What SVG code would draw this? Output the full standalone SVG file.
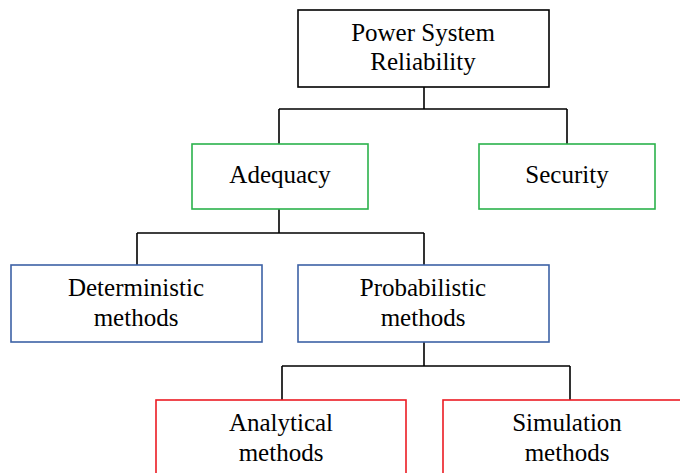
<svg xmlns="http://www.w3.org/2000/svg" width="680" height="473" viewBox="0 0 680 473">
<style>
.box{fill:#fff;stroke-width:1.6}
.k{stroke:#000}
.g{stroke:#2bb24c}
.b{stroke:#3d62a6}
.r{stroke:#ec1c24}
text{font-family:"Liberation Serif","Times New Roman",serif;font-size:25px;fill:#000;text-anchor:middle}
.c{fill:none;stroke:#000;stroke-width:1.6}
</style>
<rect width="680" height="473" fill="#fff"/>
<g id="connectors">
<path class="c" d="M424 87V109M279 109H567M279 109V144M567 109V144"/>
<path class="c" d="M279 209V233M137 233H424M137 233V265M424 233V265"/>
<path class="c" d="M424 342V366M282 366H570M282 366V400M570 366V400"/>
</g>
<g id="power-system-reliability">
<rect class="box k" x="298" y="10" width="251" height="77"/>
<text x="423" y="41">Power System</text>
<text x="423" y="70">Reliability</text>
</g>
<g id="adequacy">
<rect class="box g" x="192" y="144" width="176" height="65"/>
<text x="280" y="183">Adequacy</text>
</g>
<g id="security">
<rect class="box g" x="479" y="144" width="176" height="65"/>
<text x="567" y="183">Security</text>
</g>
<g id="deterministic">
<rect class="box b" x="11" y="265" width="251" height="77"/>
<text x="136" y="296">Deterministic</text>
<text x="136" y="326">methods</text>
</g>
<g id="probabilistic">
<rect class="box b" x="298" y="265" width="251" height="77"/>
<text x="423" y="296">Probabilistic</text>
<text x="423" y="326">methods</text>
</g>
<g id="analytical">
<rect class="box r" x="156" y="400" width="250" height="90"/>
<text x="281" y="431">Analytical</text>
<text x="281" y="461">methods</text>
</g>
<g id="simulation">
<rect class="box r" x="443" y="400" width="250" height="90"/>
<text x="567" y="431">Simulation</text>
<text x="567" y="461">methods</text>
</g>
</svg>
